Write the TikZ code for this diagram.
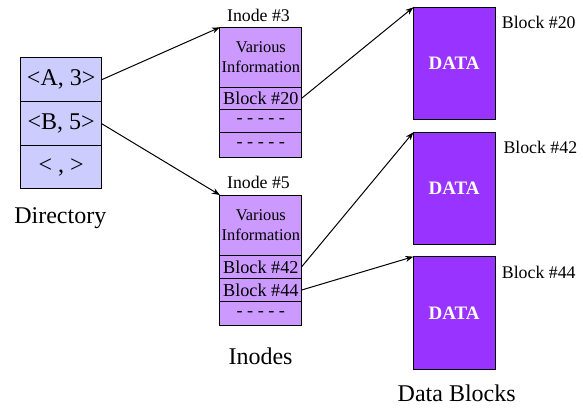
\documentclass[tikz,border=0pt]{standalone}
\usepackage{fontspec}
\setmainfont{Liberation Serif}
\usetikzlibrary{positioning, arrows.meta}
\definecolor{dirfill}{HTML}{CCCCFF}
\definecolor{inofill}{HTML}{CC99FF}
\definecolor{datfill}{HTML}{9933FF}
\tikzset{
    dircell/.style={draw, fill=dirfill, line width=1pt, minimum width=81pt,
        minimum height=44pt, inner sep=0pt, outer sep=0pt,
        font=\fontsize{24}{26}\selectfont},
    inocell/.style={draw, fill=inofill, line width=1pt, minimum width=81.7pt,
        inner sep=0pt, outer sep=0pt, font=\fontsize{18.2}{20}\selectfont},
    datblock/.style={draw, fill=datfill, line width=0.8pt, minimum width=81.7pt,
        minimum height=112pt, inner sep=0pt, outer sep=0pt, text=white,
        font=\fontsize{19}{21}\selectfont\bfseries},
    biglabel/.style={anchor=base, inner sep=0pt, font=\fontsize{24}{26}\selectfont},
    smalllabel/.style={anchor=base, inner sep=0pt, font=\fontsize{17.8}{19}\selectfont},
    ptr/.style={-{Stealth[length=8pt, width=6pt]}, line width=1pt}
}
\begin{document}
\begin{tikzpicture}[x=1pt, y=-1pt]
    \useasboundingbox (0,0) rectangle (583,408);
    % directory
    \node[dircell] (dirA) at (61.2,79.7) {<A, 3>};
    \node[dircell] (dirB) at (61.2,123.7) {<B, 5>};
    \node[dircell, minimum height=43.3pt] (dirC) at (61.2,167.3) {< , >};
    \node[biglabel] (dirlbl) at (60.3,223) {Directory};
    % inode #3
    \node[inocell, minimum height=60pt, align=center,
        font=\fontsize{16.4}{20}\selectfont] (ithree) at (260.8,57.3) {Various\\Information};
    \node[inocell, minimum height=22pt] (ithreeb) at (260.8,98.3) {Block \#20};
    \node[inocell, minimum height=23.4pt] (ithreec) at (260.8,121) {- - - - -};
    \node[inocell, minimum height=25pt] (ithreed) at (260.8,145.2) {- - - - -};
    \node[smalllabel] (ithreelbl) at (258.5,21.7) {Inode \#3};
    % inode #5
    \node[inocell, minimum height=60.3pt, align=center,
        font=\fontsize{16.4}{20}\selectfont] (ifive) at (260.8,225.2) {Various\\Information};
    \node[inocell, minimum height=23pt] (ifiveb) at (260.8,266.8) {Block \#42};
    \node[inocell, minimum height=23.4pt] (ifivec) at (260.8,290) {Block \#44};
    \node[inocell, minimum height=24pt] (ifived) at (260.8,313.7) {- - - - -};
    \node[smalllabel] (ifivelbl) at (258.5,188) {Inode \#5};
    \node[biglabel] (inolbl) at (260.5,364) {Inodes};
    % data blocks
    \node[datblock] (dtwenty) at (454.2,63.3) {DATA};
    \node[datblock] (dfortytwo) at (454.2,188.3) {DATA};
    \node[datblock, minimum height=112.3pt] (dfortyfour) at (454.2,312.8) {DATA};
    \node[smalllabel, anchor=base west] (ltwenty) at (501.7,28.3) {Block \#20};
    \node[smalllabel, anchor=base west] (lfortytwo) at (503.3,153.3) {Block \#42};
    \node[smalllabel, anchor=base west] (lfortyfour) at (501.7,278.3) {Block \#44};
    \node[biglabel] (datlbl) at (456.7,401) {Data Blocks};
    % pointers
    \draw[ptr] (dirA.east) -- (ithree.north west);
    \draw[ptr] (dirB.east) -- (ifive.north west);
    \draw[ptr] (ithreeb.east) -- (dtwenty.north west);
    \draw[ptr] (ifiveb.east) -- (dfortytwo.north west);
    \draw[ptr] (ifivec.east) -- (dfortyfour.north west);
\end{tikzpicture}
\end{document}
